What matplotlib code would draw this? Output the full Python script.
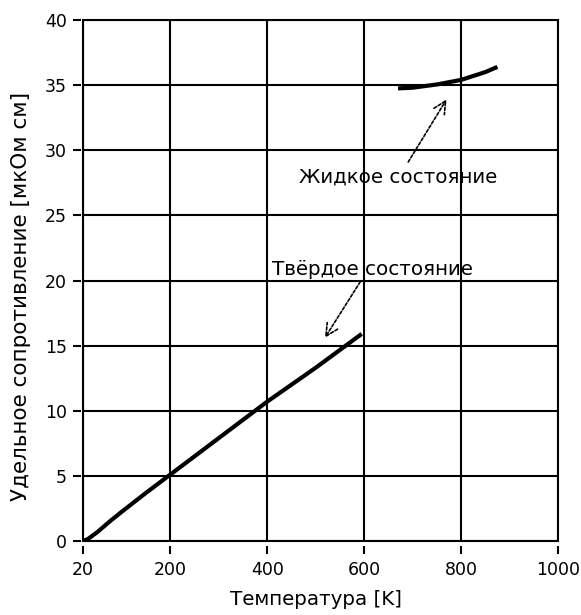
import matplotlib.pyplot as plt
from matplotlib.patches import Rectangle

# Solid state
t_solid = [20, 30, 50, 75, 100, 150, 200, 300, 400, 500, 595]
rho_solid = [0.0, 0.15, 0.7, 1.5, 2.25, 3.7, 5.1, 7.9, 10.7, 13.3, 15.9]

# Liquid state
t_liquid = [670, 700, 750, 800, 850, 875]
rho_liquid = [34.75, 34.8, 35.05, 35.4, 36.0, 36.4]

x_ticks = [20, 200, 400, 600, 800, 1000]
y_ticks = [0, 5, 10, 15, 20, 25, 30, 35, 40]

plt.rcParams['font.family'] = ['DejaVu Sans']
fig = plt.figure(figsize=(5.81, 6.15), dpi=100, facecolor='white')
ax = fig.add_axes([0.1429, 0.1203, 0.8175, 0.8472])

ax.plot(t_solid, rho_solid, color='black', linewidth=3, solid_capstyle='butt')
ax.plot(t_liquid, rho_liquid, color='black', linewidth=3, solid_capstyle='butt')

ax.set_xlim(20, 1000)
ax.set_ylim(0, 40)
ax.set_xticks(x_ticks)
ax.set_yticks(y_ticks)
ax.grid(True, color='black', linewidth=1.5)

# ticks sit slightly away from the frame
for s in ax.spines.values():
    s.set_visible(False)
ax.spines['bottom'].set_position(('outward', 3.5))
ax.spines['left'].set_position(('outward', 1.5))
ax.add_patch(Rectangle((0, 0), 1, 1, transform=ax.transAxes, fill=False,
                       edgecolor='black', linewidth=1.5, clip_on=False, zorder=3))

ax.tick_params(direction='out', length=6, width=1.5, labelsize=12.5, colors='black')
ax.tick_params(axis='x', pad=5)
ax.tick_params(axis='y', pad=4)

ax.set_xlabel('Температура [K]', fontsize=14.3)
ax.set_ylabel('Удельное сопротивление [мкОм см]', fontsize=15.5)
ax.xaxis.set_label_coords(0.49, -0.094)
ax.yaxis.set_label_coords(-0.11, 0.47)

arrow = dict(arrowstyle='->', linestyle=(0, (1.8, 1.2)), lw=1.2, color='black',
             mutation_scale=22, shrinkA=0, shrinkB=0)
ax.text(671, 27.5, 'Жидкое состояние', fontsize=14.3, ha='center', va='baseline')
ax.annotate('', xy=(770, 33.9), xytext=(691, 29.1), arrowprops=arrow)
ax.text(617, 20.4, 'Твёрдое состояние', fontsize=14.3, ha='center', va='baseline')
ax.annotate('', xy=(519, 15.6), xytext=(592, 19.9), arrowprops=arrow)

fig.savefig('out.png', dpi=100)
